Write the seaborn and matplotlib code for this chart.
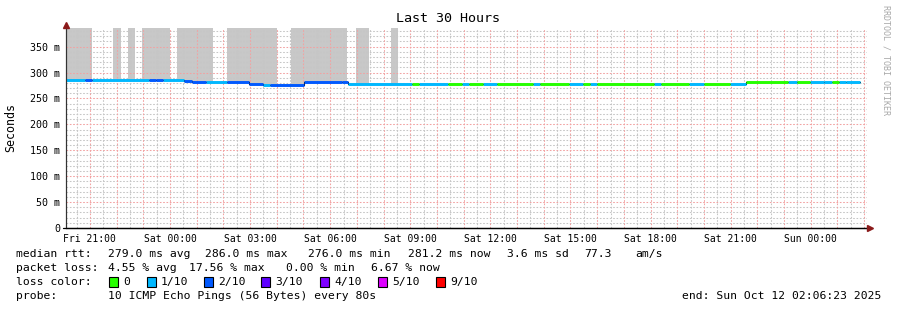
import numpy as np
import pandas as pd
import matplotlib
matplotlib.use("Agg")
import matplotlib.pyplot as plt
import seaborn as sns
from matplotlib.patches import Rectangle
from matplotlib.lines import Line2D

# ---------------- data ----------------
window_start = pd.Timestamp("2025-10-10 20:06:23")
window_end = pd.Timestamp("2025-10-12 02:06:23")
span_hours = 30.0

# median rtt step segments: start (hours since window start), value (ms), loss level
seg_start_h = [0.000, 0.712, 0.963, 3.109, 3.371, 3.622, 4.419, 4.708, 5.243, 6.019,
               6.865, 7.390, 7.640, 8.925, 10.326, 10.551, 12.948, 13.221, 14.296, 14.820,
               15.094, 15.629, 16.154, 17.502, 17.753, 18.839, 19.375, 19.625, 19.876, 22.022,
               22.285, 23.345, 23.895, 24.869, 25.457, 27.052, 27.367, 27.865, 28.401, 28.678,
               28.951, 29.213]
data_end_h = 29.738
seg_rtt_ms = [285, 285, 285, 285, 286, 286, 284, 282, 282, 282,
              278, 276, 276, 282, 281, 277, 277, 277, 277, 277,
              277, 277, 277, 277, 277, 277, 277, 277, 277, 277,
              277, 277, 277, 277, 282, 282, 282, 282, 281, 282,
              281, 282]
seg_loss = ["1/10", "2/10", "1/10", "2/10", "2/10", "1/10", "2/10", "2/10", "1/10", "2/10",
            "2/10", "1/10", "2/10", "2/10", "2/10", "1/10", "0", "1/10", "0", "1/10",
            "0", "1/10", "0", "1/10", "0", "1/10", "0", "1/10", "0", "1/10",
            "0", "1/10", "0", "1/10", "0", "1/10", "0", "1/10", "1/10", "0",
            "1/10", "1/10"]

# smoke (individual ping spread) intervals, upper values exceed the chart top
smoke_start_h = [0.025, 1.749, 2.322, 2.846, 4.157, 6.030, 8.427, 10.843, 12.172]
smoke_end_h = [0.963, 2.049, 2.584, 3.884, 5.487, 7.884, 10.543, 11.348, 12.423]
smoke_hi_ms = [400, 400, 400, 400, 400, 400, 400, 400, 400]

loss_labels = ["0", "1/10", "2/10", "3/10", "4/10", "5/10", "9/10"]
loss_colors = ["#26ff00", "#00b8ff", "#0059ff", "#5e00ff", "#7e00ff", "#dd00ff", "#ff0000"]

y_max_ms = 386
y_ticks_ms = [0, 50, 100, 150, 200, 250, 300, 350]

stats_rtt = ["279.0 ms avg", "286.0 ms max", "276.0 ms min", "281.2 ms now", "3.6 ms sd", "77.3", "am/s"]
stats_loss = ["4.55 % avg", "17.56 % max", "0.00 % min", "6.67 % now"]
probe_text = "10 ICMP Echo Pings (56 Bytes) every 80s"
end_text = "end: Sun Oct 12 02:06:23 2025"

# ---------------- figure ----------------
W, H = 897, 310
sns.set_theme(style="white")
plt.rcParams["font.family"] = ["DejaVu Sans Mono", "DejaVu Sans"]
plt.rcParams["lines.scale_dashes"] = True
plt.rcParams["text.color"] = "black"
plt.rcParams["xtick.color"] = "black"
plt.rcParams["ytick.color"] = "black"
plt.rcParams["xtick.labelcolor"] = "black"
plt.rcParams["ytick.labelcolor"] = "black"

fig = plt.figure(figsize=(W / 100, H / 100), dpi=100, facecolor="white")
ax = fig.add_axes([66 / W, 1 - 228 / H, 801 / W, 200 / H])
ax.set_facecolor("white")

def fx(x):
    return x / W

def fy(y):
    return 1 - y / H

ax.set_xlim(0, span_hours)
ax.set_ylim(0, y_max_ms)

# step helper
edges = np.array(seg_start_h + [data_end_h])
vals = np.array(seg_rtt_ms, dtype=float)

def median_at(t):
    i = np.searchsorted(edges, t, side="right") - 1
    i = np.clip(i, 0, len(vals) - 1)
    return vals[i]

# smoke
for s, e, hi in zip(smoke_start_h, smoke_end_h, smoke_hi_ms):
    inner = [b for b in edges if s < b < e]
    xs = np.array([s] + inner + [e])
    lo = np.array([median_at(x) for x in xs])
    lo[-1] = lo[-2]
    ax.fill_between(xs, lo, hi, step="post", color="#c8c8c8", lw=0, zorder=1)

# grid (dotted lines)
dot = (0, (1.6, 1.6))
grid_w = 0.75
minor_col = "#c6c6c6"
major_col = "#f2a2a2"
hour_ticks = pd.date_range(window_start.ceil("h"), window_end, freq="h")
half_ticks = pd.date_range(window_start.ceil("h") + pd.Timedelta("30min"), window_end, freq="h")
if window_start.ceil("30min") < window_start.ceil("h"):
    half_ticks = half_ticks.insert(0, window_start.ceil("30min"))
for t in half_ticks:
    h = (t - window_start).total_seconds() / 3600
    ax.axvline(h, color=minor_col, lw=grid_w, ls=dot, zorder=2)
for v in range(10, y_max_ms, 10):
    if v % 50:
        ax.axhline(v, color=minor_col, lw=grid_w, ls=dot, zorder=2)
for t in hour_ticks:
    h = (t - window_start).total_seconds() / 3600
    ax.axvline(h, color=major_col, lw=grid_w, ls=dot, zorder=2.1)
for v in y_ticks_ms[1:]:
    ax.axhline(v, color=major_col, lw=grid_w, ls=dot, zorder=2.1)

# black step connector
step_df = pd.DataFrame({"h": list(edges), "rtt": list(vals) + [vals[-1]]})
sns.lineplot(data=step_df, x="h", y="rtt", drawstyle="steps-post", color="black",
             lw=0.8, estimator=None, ax=ax, zorder=3)

# coloured median segments
rows = []
for i, (s, v, l) in enumerate(zip(seg_start_h, seg_rtt_ms, seg_loss)):
    e = edges[i + 1]
    rows.append({"seg": i, "h": s, "rtt": v, "loss": l})
    rows.append({"seg": i, "h": e, "rtt": v, "loss": l})
seg_df = pd.DataFrame(rows)
palette = dict(zip(loss_labels, loss_colors))
sns.lineplot(data=seg_df, x="h", y="rtt", hue="loss", units="seg", estimator=None,
             palette=palette, lw=2.1, legend=False, ax=ax, zorder=4,
             solid_capstyle="butt", sort=False)

# ticks
label_times = pd.date_range("2025-10-10 21:00", window_end, freq="3h")
ax.set_xticks([(t - window_start).total_seconds() / 3600 for t in label_times])
ax.set_xticklabels([t.strftime("%a %H:%M") for t in label_times], fontsize=7, color="black")
ax.set_yticks(y_ticks_ms)
ax.set_yticklabels(["0" if v == 0 else f"{v} m" for v in y_ticks_ms], fontsize=7.2, color="black")
ax.tick_params(axis="x", length=2.2, width=0.7, pad=2.0, color="#444444", direction="out")
ax.tick_params(axis="y", length=2.2, width=0.7, pad=2.2, color="#444444", direction="out")
ax.set_xlabel("")
ax.set_ylabel("")

for sp in ["top", "right"]:
    ax.spines[sp].set_visible(False)
ax.spines["left"].set_color("#333333")
ax.spines["left"].set_linewidth(0.8)
ax.spines["bottom"].set_color("black")
ax.spines["bottom"].set_linewidth(0.9)

# axis extensions and arrows
fig.add_artist(Line2D([fx(66), fx(66)], [fy(228), fy(25)], color="#333333", lw=0.8))
fig.add_artist(Line2D([fx(63), fx(869)], [fy(228), fy(228)], color="black", lw=0.9))
fig.add_artist(Line2D([fx(66)], [fy(24.5)], marker="^", color="#8b1a1a", markersize=4.8, lw=0))
fig.add_artist(Line2D([fx(870)], [fy(228)], marker=">", color="#8b1a1a", markersize=4.8, lw=0))

# texts
fig.text(fx(448), fy(19), "Last 30 Hours", ha="center", va="center", fontsize=9.6, color="black")
fig.text(fx(11), fy(127), "Seconds", ha="center", va="center", rotation=90, fontsize=8.4)
fig.text(fx(886), fy(60), "RRDTOOL / TOBI OETIKER", ha="center", va="center", rotation=270,
         fontsize=6, color="#a8a8a8")

fs = 8.2
fig.text(fx(16), fy(254), "median rtt:", ha="left", va="center", fontsize=fs)
for x, s in zip([107.6, 205, 307.5, 407.7, 506.8, 584, 635.7], stats_rtt):
    fig.text(fx(x), fy(254), s, ha="left", va="center", fontsize=fs)
fig.text(fx(16), fy(268), "packet loss:", ha="left", va="center", fontsize=fs)
for x, s in zip([107.6, 189, 286, 371], stats_loss):
    fig.text(fx(x), fy(268), s, ha="left", va="center", fontsize=fs)
fig.text(fx(16), fy(282), "loss color:", ha="left", va="center", fontsize=fs)
sq_x = [108.5, 146.5, 203.5, 261, 319.5, 377.5, 435.5]
for x, lab, col in zip(sq_x, loss_labels, loss_colors):
    fig.add_artist(Rectangle((fx(x), fy(287)), 9 / W, 10 / H, transform=fig.transFigure,
                             facecolor=col, edgecolor="black", lw=0.8))
    fig.text(fx(x + 14.5), fy(282), lab, ha="left", va="center", fontsize=fs)
fig.text(fx(16), fy(296), "probe:", ha="left", va="center", fontsize=fs)
fig.text(fx(107.6), fy(296), probe_text, ha="left", va="center", fontsize=fs)
fig.text(fx(881), fy(296), end_text, ha="right", va="center", fontsize=fs)

fig.savefig("out.png", dpi=100, facecolor="white")
